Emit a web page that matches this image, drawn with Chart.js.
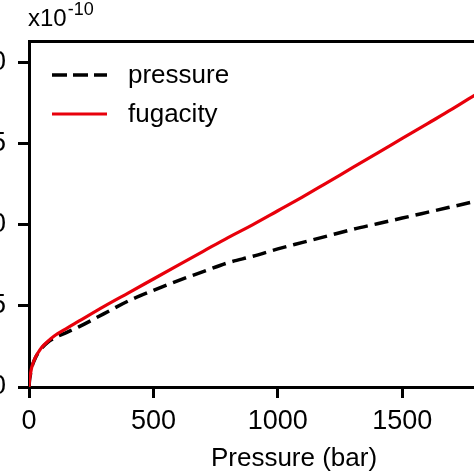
<!DOCTYPE html>
<html>
<head>
<meta charset="utf-8">
<script src="https://cdn.jsdelivr.net/npm/chart.js@4.4.1/dist/chart.umd.min.js"></script>
<style>
  html, body { margin: 0; padding: 0; background: #fff; overflow: hidden; width: 474px; height: 474px; }
  #wrap { position: absolute; left: -40px; top: 0; width: 604px; height: 474px; }
</style>
</head>
<body>
<div id="wrap"><canvas id="fugChart" width="604" height="474"></canvas></div>
<script>
// values (y in units of 1e-10)
const pressureBar = [0, 2, 5, 10, 15, 25, 35, 50, 75, 100, 150, 200, 300, 400, 500, 600, 700, 800, 900,
  1000, 1100, 1200, 1300, 1400, 1500, 1600, 1700, 1800];
const pressureSeries = [0, 0.4, 0.7, 1.12, 1.4, 1.77, 2.05, 2.38, 2.75, 3.0, 3.35, 3.7, 4.5, 5.3, 5.95, 6.55, 7.1, 7.65, 8.05,
  8.5, 8.9, 9.3, 9.7, 10.05, 10.4, 10.75, 11.1, 11.45];
const fugacitySeries = [0, 0.4, 0.72, 1.15, 1.42, 1.8, 2.08, 2.42, 2.8, 3.12, 3.6, 4.05, 4.95, 5.8, 6.65, 7.5, 8.35, 9.2, 10.0,
  10.85, 11.7, 12.6, 13.5, 14.4, 15.3, 16.2, 17.1, 18.05];
const seriesNames = ['pressure', 'fugacity'];
const xTickValues = [0, 500, 1000, 1500, 2000];
const yTickValues = [0, 5, 10, 15, 20];

const FONT = '"Liberation Sans", Arial, sans-serif';

const toPoints = (xs, ys) => xs.map((x, i) => ({ x: x, y: ys[i] }));

// exponent label + legend drawn inside the plot
const overlay = {
  id: 'overlay',
  afterDraw(chart) {
    const ctx = chart.ctx;
    ctx.save();
    ctx.fillStyle = '#000';
    ctx.textBaseline = 'alphabetic';
    ctx.textAlign = 'left';
    ctx.font = '24px ' + FONT;
    ctx.fillText('x10', 68, 26);
    const w = ctx.measureText('x10').width;
    ctx.font = '18px ' + FONT;
    ctx.fillText('-10', 68 + w + 1, 15);

    chart.data.datasets.forEach((ds, i) => {
      const y = 75 + i * 39;
      ctx.strokeStyle = ds.borderColor;
      ctx.lineWidth = ds.borderWidth;
      ctx.setLineDash(ds.borderDash ? [15, 6] : []);
      ctx.beginPath();
      ctx.moveTo(92, y);
      ctx.lineTo(147, y);
      ctx.stroke();
      ctx.setLineDash([]);
      ctx.font = '26px ' + FONT;
      ctx.fillText(ds.label, 168, y + 8);
    });
    ctx.restore();
  }
};

const ctx = document.getElementById('fugChart').getContext('2d');

new Chart(ctx, {
  type: 'line',
  data: {
    datasets: [
      {
        label: seriesNames[0],
        data: toPoints(pressureBar, pressureSeries),
        borderColor: '#000',
        borderWidth: 3.5,
        borderDash: [14, 7],
        pointRadius: 0,
        cubicInterpolationMode: 'monotone',
        fill: false,
        order: 1
      },
      {
        label: seriesNames[1],
        data: toPoints(pressureBar, fugacitySeries),
        borderColor: '#e8000b',
        borderWidth: 3.2,
        pointRadius: 0,
        cubicInterpolationMode: 'monotone',
        fill: false,
        order: 0
      }
    ]
  },
  options: {
    responsive: false,
    animation: false,
    layout: { padding: { top: 41, left: 0, right: 4, bottom: 0 } },
    plugins: {
      legend: { display: false },
      tooltip: { enabled: false }
    },
    scales: {
      x: {
        type: 'linear',
        position: 'bottom',
        min: 0,
        max: 2130,
        afterBuildTicks: (s) => { s.ticks = xTickValues.map(v => ({ value: v })); },
        afterFit: (s) => { s.height = 87; },
        grid: { drawOnChartArea: false, drawTicks: true, tickLength: 11, tickWidth: 3, tickColor: '#000' },
        border: { display: true, color: '#000', width: 3 },
        ticks: {
          color: '#000', padding: 7, maxRotation: 0, autoSkip: false,
          font: { family: FONT, size: 27 },
          callback: (v) => String(v)
        },
        title: {
          display: true,
          text: 'Pressure (bar)',
          color: '#000',
          padding: { top: 0, bottom: 0 },
          font: { family: FONT, size: 26 }
        }
      },
      x2: {
        type: 'linear',
        position: 'top',
        min: 0,
        max: 1,
        afterFit: (s) => { s.height = 0; },
        grid: { display: false },
        ticks: { display: false },
        border: { display: true, color: '#000', width: 3 }
      },
      y: {
        min: 0,
        max: 21.3,
        afterBuildTicks: (s) => { s.ticks = yTickValues.map(v => ({ value: v })); },
        afterFit: (s) => { s.width = 69; },
        grid: { drawOnChartArea: false, drawTicks: true, tickLength: 11, tickWidth: 3, tickColor: '#000' },
        border: { display: true, color: '#000', width: 3 },
        ticks: { color: '#000', padding: 12, font: { family: FONT, size: 27 }, callback: (v) => String(v) }
      }
    }
  },
  plugins: [overlay]
});
</script>
</body>
</html>
